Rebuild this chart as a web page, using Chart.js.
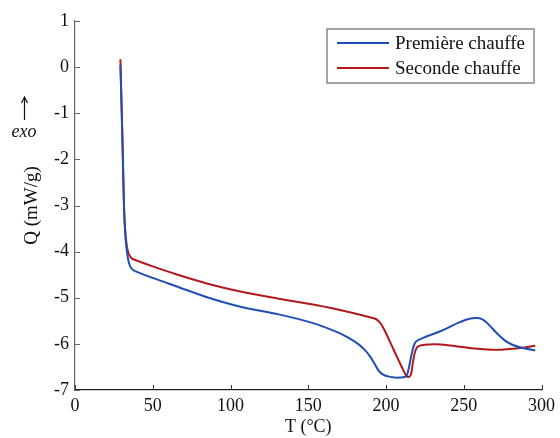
<!DOCTYPE html>
<html>
<head>
<meta charset="utf-8">
<script src="https://cdn.jsdelivr.net/npm/chart.js@4"></script>
<style>
  html, body { margin: 0; padding: 0; background: #fff; }
  #wrap { width: 560px; height: 438px; }
</style>
</head>
<body>
<div id="wrap"><canvas id="dsc_chart"></canvas></div>
<script>
// temperature (°C) and heat flow (mW/g)
const tempPremiere = [29.2, 30, 30.8, 31.5, 32.2, 33.2, 34.5, 36, 38, 50, 65, 86, 107, 131, 152, 169, 176, 182, 186, 189.5, 192.5, 195, 197, 199, 202, 205.5, 209, 213, 214.5, 216, 217.5, 219.3, 224.7, 235.3, 246, 252, 258, 262, 266, 271.6, 277, 282, 288, 296];
const qPremiere = [0.05, -0.9, -2.0, -3.0, -3.55, -3.95, -4.22, -4.35, -4.41, -4.57, -4.75, -5.0, -5.2, -5.36, -5.54, -5.75, -5.87, -6.0, -6.12, -6.26, -6.42, -6.57, -6.64, -6.68, -6.71, -6.73, -6.73, -6.70, -6.55, -6.30, -6.08, -5.95, -5.86, -5.72, -5.55, -5.47, -5.44, -5.47, -5.58, -5.78, -5.94, -6.03, -6.09, -6.14];

const tempSeconde = [29.2, 30, 30.8, 31.5, 32.2, 33.2, 34.5, 36, 37, 50, 65, 86, 107, 131, 163, 192.7, 195, 197, 199, 201, 204, 207, 210, 213, 214.5, 216, 217.3, 218.3, 219.5, 221, 225, 232, 240, 256.7, 271.6, 286.5, 296];
const qSeconde = [0.17, -0.9, -2.0, -3.0, -3.5, -3.85, -4.05, -4.13, -4.16, -4.32, -4.49, -4.70, -4.87, -5.02, -5.21, -5.45, -5.50, -5.58, -5.70, -5.84, -6.06, -6.28, -6.49, -6.69, -6.72, -6.67, -6.40, -6.22, -6.10, -6.05, -6.02, -6.01, -6.03, -6.10, -6.13, -6.09, -6.04];

const seriesLabels = ["Première chauffe", "Seconde chauffe"];
const xTicks = [0, 50, 100, 150, 200, 250, 300];
const yTicks = [1, 0, -1, -2, -3, -4, -5, -6, -7];

const serif = "'Liberation Serif', 'Times New Roman', serif";
const toPoints = (xs, ys) => xs.map((x, i) => ({ x: x, y: ys[i] }));

// inward tick marks, like the original plot
const innerTicks = {
    id: "innerTicks",
    afterDraw(chart) {
        const { ctx, chartArea, scales } = chart;
        ctx.save();
        ctx.lineWidth = 1;
        ctx.strokeStyle = "#333";
        xTicks.forEach((t) => {
            const px = Math.round(scales.x.getPixelForValue(t)) + 0.5;
            ctx.beginPath();
            ctx.moveTo(px, chartArea.bottom);
            ctx.lineTo(px, chartArea.bottom - 5);
            ctx.stroke();
        });
        ctx.strokeStyle = "#666";
        yTicks.forEach((t) => {
            const py = Math.round(scales.y.getPixelForValue(t)) + 0.5;
            ctx.beginPath();
            ctx.moveTo(chartArea.left, py);
            ctx.lineTo(chartArea.left + 5, py);
            ctx.stroke();
        });
        ctx.restore();
    }
};

// boxed legend in the top right corner of the plot
const boxLegend = {
    id: "boxLegend",
    afterDraw(chart) {
        const ctx = chart.ctx;
        const x0 = 327, y0 = 29, w = 207, h = 54;
        ctx.save();
        ctx.fillStyle = "#fff";
        ctx.fillRect(x0, y0, w, h);
        ctx.strokeStyle = "#888";
        ctx.lineWidth = 1.5;
        ctx.strokeRect(x0, y0, w, h);
        ctx.font = "19px " + serif;
        ctx.textBaseline = "middle";
        chart.data.datasets.forEach((ds, i) => {
            const ly = y0 + 14 + i * 25;
            ctx.strokeStyle = ds.borderColor;
            ctx.lineWidth = 2;
            ctx.beginPath();
            ctx.moveTo(337, ly);
            ctx.lineTo(389, ly);
            ctx.stroke();
            ctx.fillStyle = "#111";
            ctx.fillText(ds.label, 395, ly + 1);
        });
        ctx.restore();
    }
};

// the "exo" arrow beside the y axis
const exoMark = {
    id: "exoMark",
    afterDraw(chart) {
        const ctx = chart.ctx;
        ctx.save();
        ctx.fillStyle = "#111";
        ctx.strokeStyle = "#111";
        ctx.lineWidth = 1.2;
        ctx.beginPath();
        ctx.moveTo(24.5, 98);
        ctx.lineTo(24.5, 120);
        ctx.stroke();
        ctx.beginPath();
        ctx.moveTo(21.5, 103);
        ctx.lineTo(24.5, 97);
        ctx.lineTo(27.5, 103);
        ctx.stroke();
        ctx.font = "italic 18px " + serif;
        ctx.textAlign = "center";
        ctx.textBaseline = "middle";
        ctx.fillText("exo", 24, 132);
        ctx.restore();
    }
};

const info = {
    datasets: [
        {
            label: seriesLabels[0],
            data: toPoints(tempPremiere, qPremiere),
            borderColor: "#1f4fb4",
            borderWidth: 2,
            pointRadius: 0,
            tension: 0.3
        },
        {
            label: seriesLabels[1],
            data: toPoints(tempSeconde, qSeconde),
            borderColor: "#b2191c",
            borderWidth: 2,
            pointRadius: 0,
            tension: 0.3
        }
    ]
};

const options = {
    responsive: true,
    maintainAspectRatio: false,
    animation: false,
    layout: { padding: { top: 21, right: 15, left: 0, bottom: 0 } },
    scales: {
        x: {
            type: "linear",
            min: 0,
            max: 300,
            afterFit: (scale) => { scale.height = 48; },
            afterBuildTicks: (scale) => { scale.ticks = xTicks.map((v) => ({ value: v })); },
            ticks: {
                color: "#111",
                font: { family: serif, size: 18 },
                padding: 5,
                maxRotation: 0
            },
            grid: { display: false, drawTicks: false },
            border: { display: true, color: "#222", width: 1.2 },
            title: {
                display: true,
                text: "T (°C)",
                color: "#111",
                font: { family: serif, size: 18 },
                padding: { top: 0, bottom: 0 }
            }
        },
        y: {
            min: -7,
            max: 1,
            afterFit: (scale) => { scale.width = 75; },
            afterBuildTicks: (scale) => { scale.ticks = yTicks.map((v) => ({ value: v })); },
            ticks: {
                color: "#111",
                font: { family: serif, size: 18 },
                padding: 6
            },
            grid: { display: false, drawTicks: false },
            border: { display: true, color: "#666", width: 1.2 },
            title: {
                display: true,
                text: "Q (mW/g)",
                color: "#111",
                font: { family: serif, size: 19 },
                padding: { top: 21, bottom: 0 }
            }
        }
    },
    plugins: {
        legend: { display: false },
        tooltip: { enabled: false }
    }
};

const config = {
    type: "line",
    data: info,
    options,
    plugins: [innerTicks, boxLegend, exoMark]
};

const dscChart = new Chart(document.getElementById("dsc_chart"), config);
</script>
</body>
</html>
